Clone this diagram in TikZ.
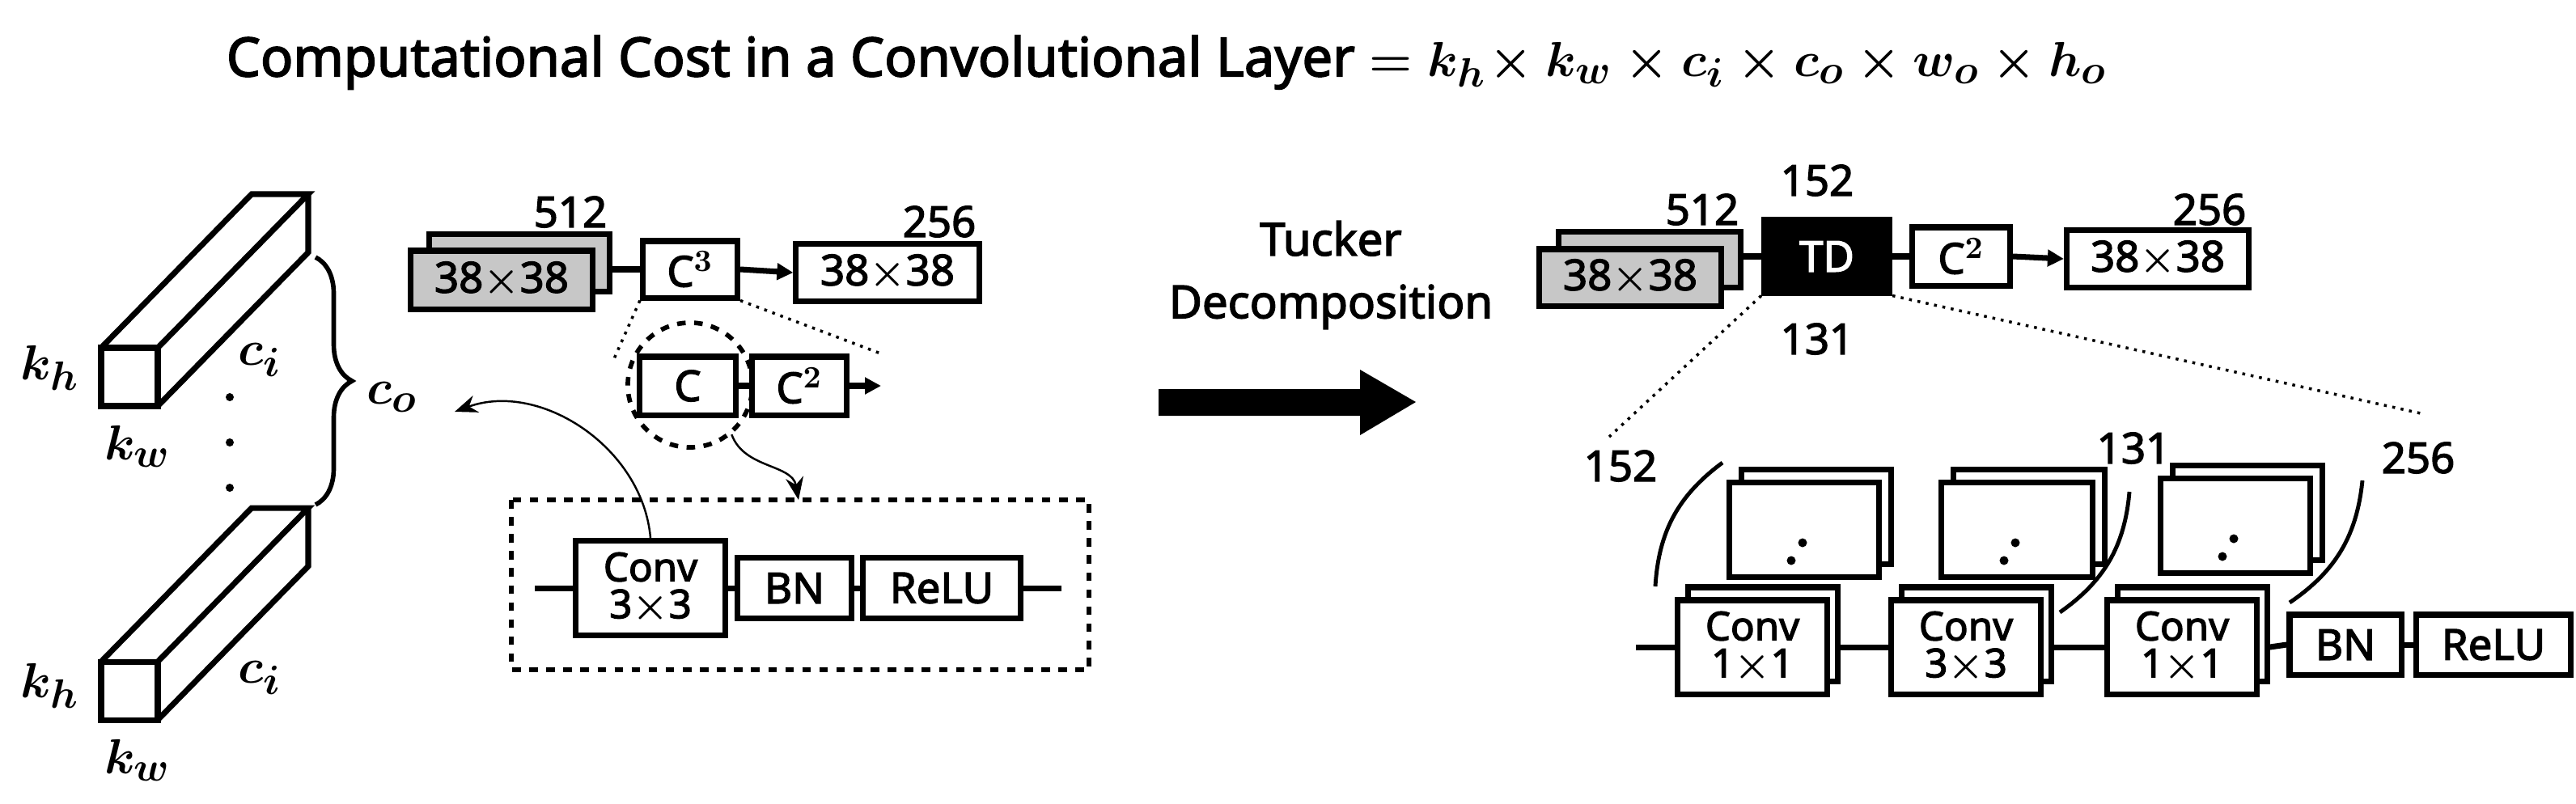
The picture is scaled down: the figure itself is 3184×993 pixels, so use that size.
\documentclass[tikz,border=0pt]{standalone}
\usepackage{amsmath,amssymb}
\usepackage{fontspec}
\setmainfont{Noto Sans}[AutoFakeBold=2.5]
\usetikzlibrary{arrows.meta,calc,decorations.pathreplacing}

\tikzset{
  blk/.style={draw, line width=2pt, fill=white, inner sep=0pt, font=\fontsize{15}{15}\selectfont\bfseries, align=center},
  gray blk/.style={blk, fill=black!22},
  conv blk/.style={blk, font=\fontsize{14}{13}\selectfont\bfseries},
  num/.style={font=\fontsize{15}{16}\selectfont\bfseries},
  sym/.style={font=\fontsize{19}{20}\selectfont},
  flow/.style={line width=2pt},
  thin arrow/.style={line width=0.7pt, -{Stealth[length=0.28cm,width=0.22cm]}},
  zoomline/.style={dotted, line width=1pt}
}

\begin{document}
\begin{tikzpicture}[x=0.01cm, y=-0.01cm, >={Triangle[length=0.2cm,width=0.2cm]}]
\mathversion{bold}
\useasboundingbox (0,0) rectangle (3184,993);

% title
\node[font=\fontsize{19}{20}\selectfont\bfseries] (title) at (1442,77)
  {Computational Cost in a Convolutional Layer $=k_h\!\times k_w\times c_i\times c_o\times w_o\times h_o$};

% kernels
\foreach \y in {430,818} {
  \draw[line width=2pt] (125,\y) rectangle (195,\y+72);
  \draw[line width=2pt] (125,\y) -- ++(186,-190) -- ++(70,0) -- (195,\y)
    (381,\y-190) -- ++(0,72) -- (195,\y+72);
}
\node[sym] (kh1) at (62,455) {$k_h$};
\node[sym] (kw1) at (170,552) {$k_w$};
\node[sym] (ci1) at (321,445) {$c_i$};
\node[sym] (kh2) at (62,848) {$k_h$};
\node[sym] (kw2) at (170,940) {$k_w$};
\node[sym] (ci2) at (321,838) {$c_i$};
\foreach \y in {491,547,603} \fill (284,\y) circle (0.05cm);
\draw[line width=1.6pt, decorate, decoration={brace, amplitude=0.45cm}] (390,318) -- (390,624);
\node[sym] (co) at (485,491) {$c_o$};

% original layer
\node[gray blk, minimum width=2.23cm, minimum height=0.71cm] (featB) at (642,325) {};
\node[gray blk, minimum width=2.25cm, minimum height=0.72cm] (featA) at (620,346) {38$\times$38};
\node[num] (n512a) at (705,262) {512};
\node[blk, minimum width=1.17cm, minimum height=0.70cm] (c3) at (853,333) {C$^3$};
\node[blk, minimum width=2.26cm, minimum height=0.71cm] (outA) at (1097,337) {38$\times$38};
\node[num] (n256a) at (1161,274) {256};
\draw[flow] (featB.east |- c3.west) -- (c3.west);
\draw[flow, ->] (c3.east) -- (outA.west);

\node[blk, minimum width=1.19cm, minimum height=0.72cm] (c1) at (850,477) {C};
\node[blk, minimum width=1.17cm, minimum height=0.72cm] (c2) at (988,477) {C$^2$};
\coordinate (c2end) at (1089,477);
\draw[flow] (c1) -- (c2);
\draw[flow, ->] (c2.east) -- (c2end);
\coordinate (zl) at (757,448);
\coordinate (zr) at (1091,438);
\draw[zoomline] (c3.south west) -- (zl);
\draw[zoomline] (c3.south east) -- (zr);
\node[draw, dashed, line width=1.6pt, circle, minimum size=1.54cm] (focus) at (853,476) {};

\draw[dashed, line width=1.6pt] (632,618) rectangle (1346,828);
\node[conv blk, minimum width=1.84cm, minimum height=1.17cm] (conv) at (804,727) {Conv\\3$\times$3};
\node[blk, minimum width=1.40cm, minimum height=0.75cm] (bn) at (982,727) {BN};
\node[blk, minimum width=1.94cm, minimum height=0.75cm] (relu) at (1164,727) {ReLU};
\coordinate (inA) at (661,727);
\coordinate (outB) at (1312,727);
\draw[flow] (inA) -- (conv) -- (bn) -- (relu) -- (outB);

\draw[thin arrow] (focus.-50) to[out=-70, in=100] (987,618);
\draw[thin arrow] (conv.north) to[out=95, in=20] (562,509);

% Tucker arrow
\node[font=\fontsize{16}{22}\selectfont\bfseries, align=center] (tucker) at (1645,340) {Tucker\\Decomposition};
\fill (1432,481) -- (1681,481) -- (1681,457) -- (1750,497) -- (1681,538) -- (1681,514) -- (1432,514) -- cycle;

% decomposed layer
\node[gray blk, minimum width=2.24cm, minimum height=0.69cm] (featD) at (2039,321) {};
\node[gray blk, minimum width=2.25cm, minimum height=0.70cm] (featC) at (2015,343) {38$\times$38};
\node[num] (n512b) at (2104,259) {512};
\node[blk, fill=black, text=white, minimum width=1.55cm, minimum height=0.90cm] (td) at (2258,317) {TD};
\node[num] (n152a) at (2246,223) {152};
\node[num] (n131a) at (2246,419) {131};
\node[blk, minimum width=1.21cm, minimum height=0.72cm] (c2r) at (2424,317) {C$^2$};
\node[blk, minimum width=2.25cm, minimum height=0.71cm] (outR) at (2667,320) {38$\times$38};
\node[num] (n256b) at (2731,259) {256};
\draw[flow] (featD.east |- td.west) -- (td.west);
\draw[flow] (td.east) -- (c2r.west);
\draw[flow, ->] (c2r.east) -- (outR.west);
\coordinate (zl2) at (1989,540);
\coordinate (zr2) at (2992,511);
\draw[zoomline] (td.south west) -- (zl2);
\draw[zoomline] (td.south east) -- (zr2);

% feature maps of the decomposed convolutions
\foreach \name/\x/\y/\w in {mapA/2230/655/1.85, mapB/2493/655/1.87, mapC/2763/650/1.85} {
  \node[blk, minimum width=\w cm, minimum height=1.17cm] (\name b) at (\x+15,\y-16) {};
  \node[blk, minimum width=\w cm, minimum height=1.17cm] (\name) at (\x,\y) {};
  \fill (\x-2,\y+16) circle (0.055cm) (\x-16,\y+38) circle (0.055cm);
}
\foreach \name/\x/\txt in {convA/2166/{Conv\\1$\times$1}, convB/2430/{Conv\\3$\times$3}, convC/2697/{Conv\\1$\times$1}} {
  \node[blk, minimum width=1.84cm, minimum height=1.16cm] (\name b) at (\x+13,784) {};
  \node[conv blk, minimum width=1.84cm, minimum height=1.16cm] (\name) at (\x,800) {\txt};
}
\node[blk, minimum width=1.38cm, minimum height=0.74cm] (bn2) at (2899,797) {BN};
\node[blk, minimum width=1.91cm, minimum height=0.74cm] (relu2) at (3082,797) {ReLU};
\coordinate (inC) at (2022,800);
\draw[flow] (inC) -- (convA.west);
\draw[flow] (convAb.east |- convA.east) -- (convB.west);
\draw[flow] (convBb.east |- convB.east) -- (convC.west);
\draw[flow] (convCb.east |- convC.east) -- (bn2.west);
\draw[flow] (bn2) -- (relu2);

\draw[line width=1.4pt] (2129,572) to[bend right=25] (2046,725);
\draw[line width=1.4pt] (2632,608) to[bend left=25] (2546,757);
\draw[line width=1.4pt] (2920,594) to[bend left=25] (2830,745);
\node[num] (n152b) at (2003,576) {152};
\node[num] (n131b) at (2637,554) {131};
\node[num] (n256c) at (2989,566) {256};
\end{tikzpicture}
\end{document}
